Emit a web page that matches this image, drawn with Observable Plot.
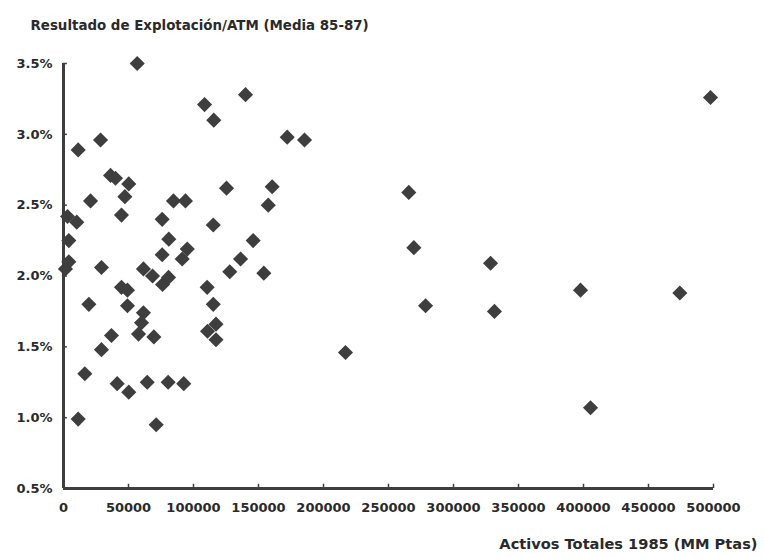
<!DOCTYPE html>
<html>
<head>
<meta charset="utf-8">
<script src="https://cdn.jsdelivr.net/npm/d3@7"></script>
<script src="https://cdn.jsdelivr.net/npm/@observablehq/plot@0.6"></script>
<style>
  html, body { margin: 0; padding: 0; background: #fff; }
</style>
</head>
<body>
<div id="chart"></div>
<script>
// Activos Totales 1985 (MM Ptas)
const activos = [
  56700, 108500, 115600, 140000, 172100, 185400, 28500, 11300, 36200, 40000,
  50200, 47200, 20800, 84600, 93800, 125400, 160500, 157500, 44600, 75900,
  3100, 10200, 115200, 4100, 81000, 95200, 91300, 75900, 145900, 136200,
  127900, 154100, 4100, 1500, 29200, 61500, 68500, 76200, 80800, 44600,
  49200, 19500, 49200, 61500, 60000, 57700, 69500, 36900, 29200, 16400,
  41300, 50200, 64400, 80500, 92500, 11300, 71300, 110500, 115200, 110800,
  117300, 117300, 216900, 265600, 269500, 278500, 328500, 331500, 397700, 405400,
  474100, 497700
];
// Resultado de Explotación/ATM (Media 85-87), en %
const resultado = [
  3.50, 3.21, 3.10, 3.28, 2.98, 2.96, 2.96, 2.89, 2.71, 2.69,
  2.65, 2.56, 2.53, 2.53, 2.53, 2.62, 2.63, 2.50, 2.43, 2.40,
  2.42, 2.38, 2.36, 2.25, 2.26, 2.19, 2.12, 2.15, 2.25, 2.12,
  2.03, 2.02, 2.10, 2.05, 2.06, 2.05, 2.00, 1.94, 1.99, 1.92,
  1.90, 1.80, 1.79, 1.74, 1.67, 1.59, 1.57, 1.58, 1.48, 1.31,
  1.24, 1.18, 1.25, 1.25, 1.24, 0.99, 0.95, 1.92, 1.80, 1.61,
  1.66, 1.55, 1.46, 2.59, 2.20, 1.79, 2.09, 1.75, 1.90, 1.07,
  1.88, 3.26
];
const xTicks = [0, 50000, 100000, 150000, 200000, 250000, 300000, 350000, 400000, 450000, 500000];
const yTicks = [0.5, 1.0, 1.5, 2.0, 2.5, 3.0, 3.5];
const titleText = "Resultado de Explotación/ATM (Media 85-87)";
const xLabelText = "Activos Totales 1985 (MM Ptas)";

const data = activos.map((a, i) => ({activos: a, resultado: resultado[i]}));
const ink = "#3e3e3e";
const textInk = "#2a2a2a";

const chart = Plot.plot({
  width: 764,
  height: 558,
  marginLeft: 63,
  marginRight: 51,
  marginTop: 63,
  marginBottom: 70,
  style: {fontFamily: "DejaVu Sans", fontSize: "13px", fontWeight: "bold", background: "#fff", color: textInk},
  x: {type: "linear", domain: [0, 500000]},
  y: {type: "linear", domain: [0.5, 3.5]},
  marks: [
    Plot.axisX(xTicks, {tickSize: 0, tickPadding: 14, tickFormat: d => String(d), label: null, fontSize: 13, fontWeight: "bold", fill: textInk}),
    Plot.axisY(yTicks, {tickSize: 0, tickPadding: 11, tickFormat: d => d.toFixed(1) + "%", label: null, fontSize: 13, fontWeight: "bold", fill: textInk}),
    // inward tick marks
    Plot.ruleX(xTicks, {x: d => d, y1: 0.5, y2: 0.53, stroke: ink, strokeWidth: 1.5}),
    Plot.ruleY(yTicks, {y: d => d, x1: 0, x2: 3000, stroke: ink, strokeWidth: 1.5}),
    // axis lines
    Plot.ruleX([0], {y1: 0.5, y2: 3.5, stroke: ink, strokeWidth: 3}),
    Plot.ruleY([0.5], {x1: 0, x2: 500000, stroke: ink, strokeWidth: 3}),
    Plot.dot(data, {x: "activos", y: "resultado", symbol: "diamond2", r: 6.8, fill: ink, stroke: "none"}),
    Plot.text([titleText], {text: d => d, frameAnchor: "top-left", dx: -33, dy: -43, textAnchor: "start", fontSize: 13.4, fontWeight: "bold", fill: textInk}),
    Plot.text([xLabelText], {text: d => d, frameAnchor: "bottom-right", dx: 44, dy: 60, textAnchor: "end", fontSize: 14.6, fontWeight: "bold", fill: textInk})
  ]
});
document.getElementById("chart").appendChild(chart);
</script>
</body>
</html>
